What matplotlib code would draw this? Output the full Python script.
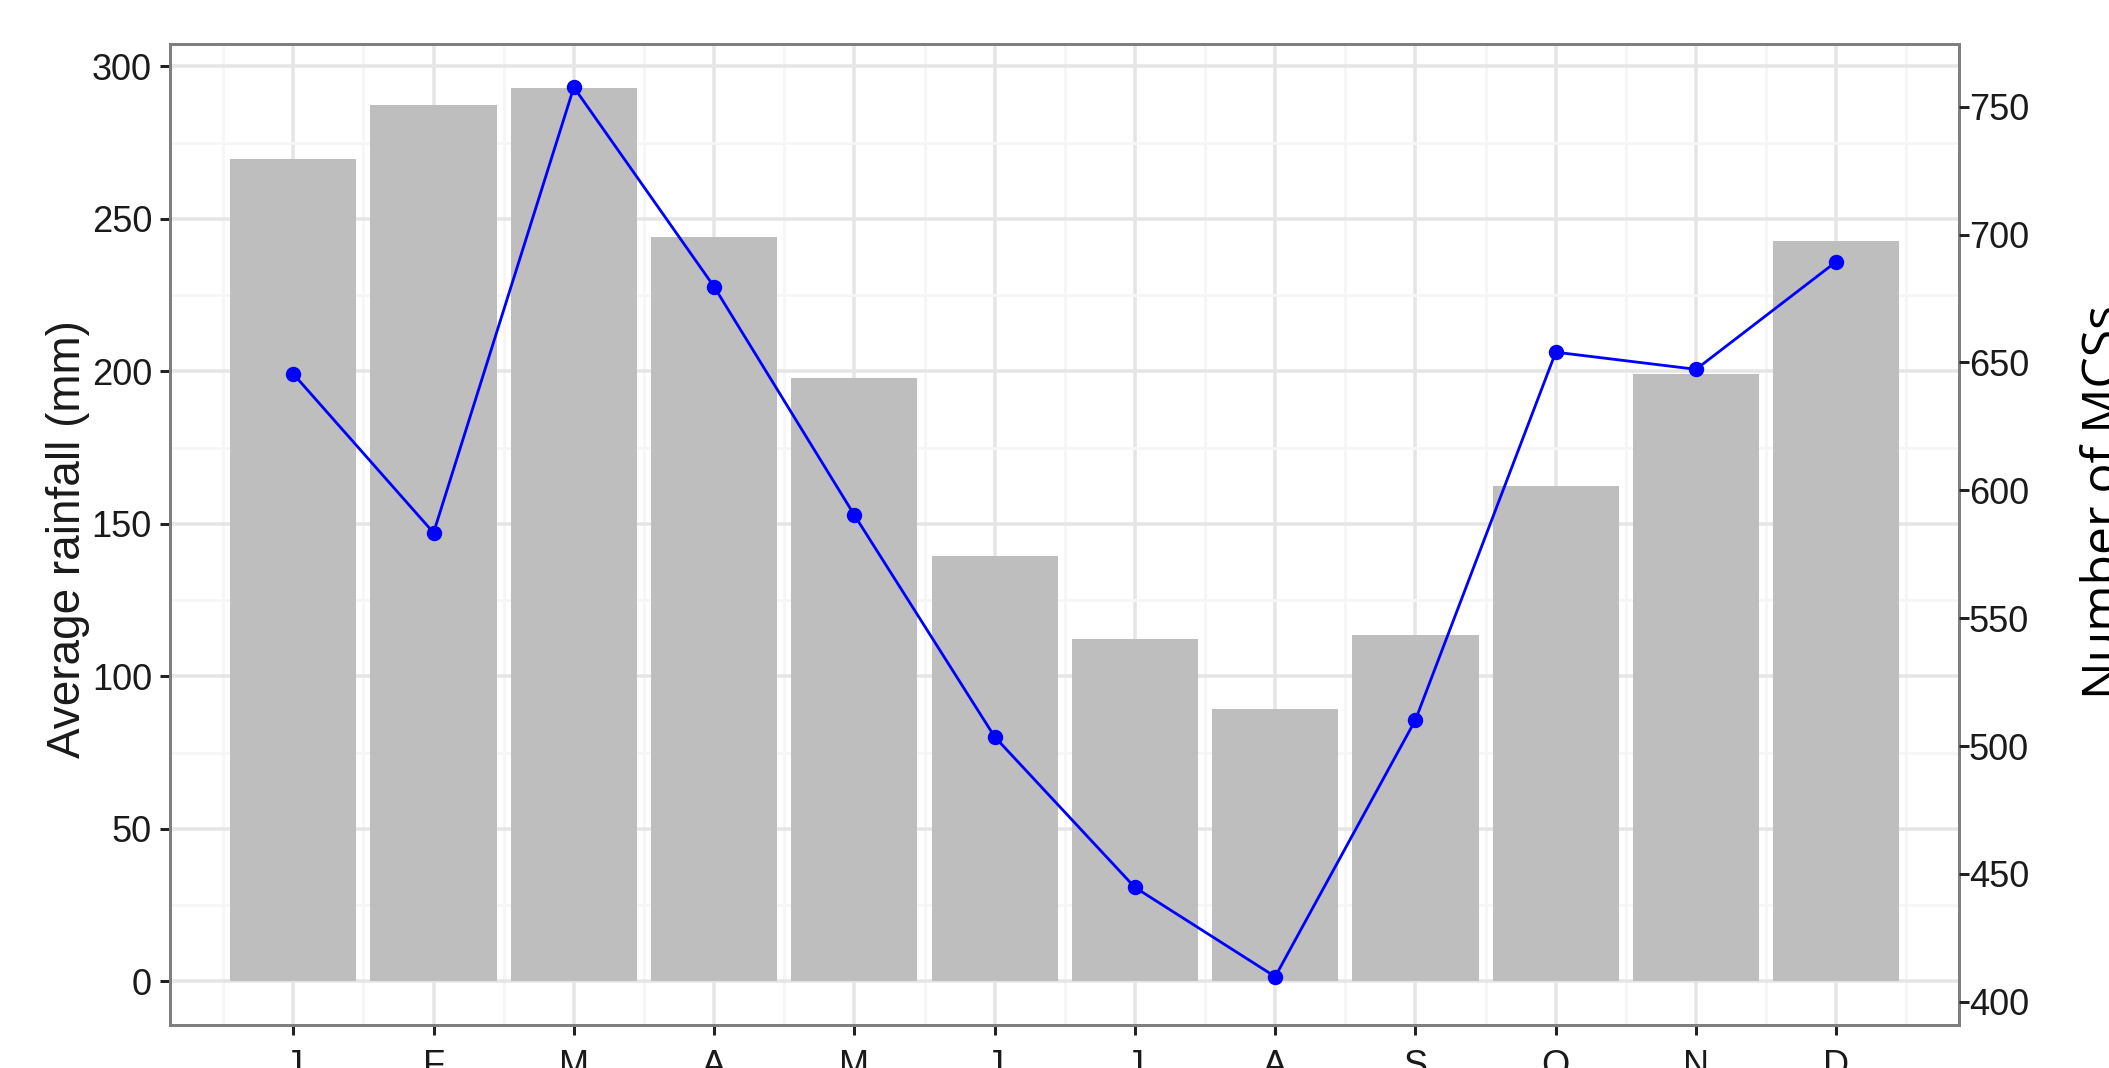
import matplotlib
matplotlib.use("Agg")
import matplotlib.pyplot as plt
import numpy as np

# ---- data ----
months = ["J", "F", "M", "A", "M", "J", "J", "A", "S", "O", "N", "D"]
rainfall = [269.6, 287.3, 292.8, 244.0, 197.8, 139.4, 112.2, 89.3, 113.5, 162.4, 199.1, 242.7]
mcs_count = [645.5, 583.4, 757.6, 679.6, 590.3, 503.6, 444.7, 409.8, 510.2, 654.0, 647.3, 689.4]
left_ticks = [0, 50, 100, 150, 200, 250, 300]
right_ticks = [400, 450, 500, 550, 600, 650, 700, 750]

W, H, DPI = 2109, 1068, 100
PX = 72.0 / DPI  # points per pixel

fig = plt.figure(figsize=(W / DPI, H / DPI), dpi=DPI)
fig.patch.set_facecolor("white")

x0, x1, ytop, ybot = 170, 1959, 44.3, 1025
ax = fig.add_axes([x0 / W, 1 - ybot / H, (x1 - x0) / W, (ybot - ytop) / H])

x = np.arange(1, len(months) + 1)
ax.bar(x, rainfall, width=0.9, color="#BEBEBE", linewidth=0, zorder=2)

ax.set_xlim(0.121, 12.875)
ax.set_ylim(-14.3, 307.2)
ax.set_xticks(x)
ax.set_xticklabels(months)
ax.set_xticks(np.arange(0.5, 13.0, 1.0), minor=True)
ax.set_yticks(left_ticks)
ax.set_yticks(np.arange(25, 300, 50), minor=True)

ax.set_axisbelow(True)
ax.grid(which="major", color="#E5E5E5", linewidth=3.5 * PX)
ax.grid(which="minor", color="#F6F6F6", linewidth=2.8 * PX)

for s in ax.spines.values():
    s.set_color("#7F7F7F")
    s.set_linewidth(3 * PX)
    s.set_zorder(5)

tick_family = ["Liberation Sans", "DejaVu Sans"]
ax.tick_params(axis="both", which="major", length=10 * PX, width=3 * PX,
               color="#222222", labelcolor="#1A1A1A", labelsize=26)
ax.tick_params(axis="y", which="major", pad=8 * PX)
ax.tick_params(axis="x", which="major", pad=14 * PX)
ax.tick_params(which="minor", length=0)
for lab in ax.get_xticklabels() + ax.get_yticklabels():
    lab.set_family(tick_family)

ax2 = ax.twinx()
ax2.set_ylim(390.9, 774.4)
ax2.set_yticks(right_ticks)
ax2.plot(x, mcs_count, color="#0000FF", linewidth=2.8 * PX, marker="o",
         markersize=14 * PX, zorder=3)
ax2.tick_params(axis="y", length=10 * PX, width=3 * PX, color="#222222",
                labelcolor="#1A1A1A", labelsize=26, pad=0)
for lab in ax2.get_yticklabels():
    lab.set_family(tick_family)
for s in ax2.spines.values():
    s.set_visible(False)

fig.text(90 / W, 1 - 539 / H, "Average rainfall (mm)", rotation=90,
         ha="right", va="center", fontsize=33, color="#1A1A1A",
         family=["Liberation Sans", "DejaVu Sans"])
fig.text(2080 / W, 1 - 502 / H, "Number of MCSs", rotation=90,
         ha="left", va="center", fontsize=36, color="black",
         family=["Open Sans", "DejaVu Sans"])

fig.savefig("out.png", dpi=DPI, facecolor="white")
